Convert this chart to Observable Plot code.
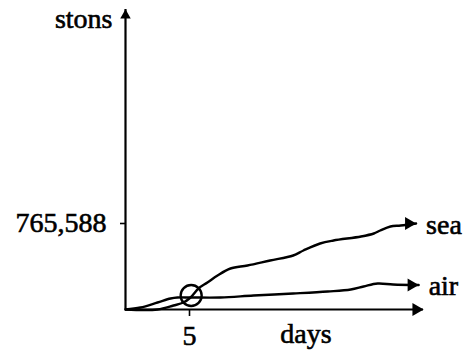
<!DOCTYPE html>
<html>
<head>
<meta charset="utf-8">
<script src="https://cdn.jsdelivr.net/npm/d3@7"></script>
<script src="https://cdn.jsdelivr.net/npm/@observablehq/plot@0.6"></script>
<style>
  html, body { margin: 0; padding: 0; background: #fff; }
  #chart svg text { stroke: #000; stroke-width: 0.6px; paint-order: stroke; }
</style>
</head>
<body>
<div id="chart"></div>
<script>
// Axis extents (data units)
const xDomain = [0, 23.28];
const yDomain = [0, 2640000];

// Tick labels
const xTicks = [5];
const yTicks = [765588];

// Axis titles
const xTitle = "days";
const yTitle = "stons";

// Series
const seriesNames = ["sea", "air"];
const seaDays = [0, 2.5, 3.75, 4.53, 5.08, 5.7, 6.4, 7.19, 8.2, 9.53, 11.3, 13.1, 13.9, 15.2, 16.25, 18.4, 19.4, 19.9, 20.7, 21.5, 22.7];
const seaTons = [0, 0, 35200, 61600, 105600, 184800, 237600, 299200, 360800, 387200, 431200, 475200, 519200, 580800, 607200, 642400, 668800, 695200, 730400, 739200, 756800];
const airDays = [0, 1.17, 2.5, 3.52, 4.06, 5.08, 7.42, 10.0, 13.1, 15.8, 17.6, 18.6, 19.7, 20.9, 22.9];
const airTons = [0, 17600, 61600, 96800, 105600, 105600, 105600, 123200, 140800, 158400, 176000, 202400, 228800, 220000, 215600];

// Highlighted crossing
const markDay = [5.13];
const markTons = [123200];

const sea = seaDays.map((d, i) => ({day: d, tons: seaTons[i], name: seriesNames[0]}));
const air = airDays.map((d, i) => ({day: d, tons: airTons[i], name: seriesNames[1]}));
const ends = [sea[sea.length - 1], air[air.length - 1]];
const circle = markDay.map((d, i) => ({day: d, tons: markTons[i]}));

const font = "'Liberation Serif', 'Times New Roman', serif";

const chart = Plot.plot({
  width: 466,
  height: 352,
  marginLeft: 125,
  marginRight: 43,
  marginTop: 9,
  marginBottom: 43,
  x: {domain: xDomain, axis: null},
  y: {domain: yDomain, axis: null},
  style: {fontFamily: font, fontSize: "28px", color: "black", background: "white", overflow: "visible"},
  marks: [
    // axes lines
    Plot.ruleY([yDomain[0]], {stroke: "black", strokeWidth: 2.2}),
    Plot.ruleX([xDomain[0]], {stroke: "black", strokeWidth: 2.2}),
    // axis arrowheads
    Plot.dot([{day: xDomain[1], tons: yDomain[0]}], {x: "day", y: "tons", symbol: "triangle", r: 4.8, fill: "black", stroke: "none", rotate: 90, dx: -7.3}),
    Plot.dot([{day: xDomain[0], tons: yDomain[1]}], {x: "day", y: "tons", symbol: "triangle", r: 3.9, fill: "black", stroke: "none", dy: 5.9}),
    // ticks
    Plot.axisY(yTicks, {tickFormat: d3.format(","), tickSize: 5, tickPadding: 14, label: null, fontSize: 28, strokeWidth: 1.6, dy: 1}),
    Plot.axisX(xTicks, {tickSize: 7, tickPadding: 9, label: null, fontSize: 28, strokeWidth: 1.6}),
    // axis titles
    Plot.text([yTitle], {x: () => xDomain[0], y: () => yDomain[1], text: d => d, textAnchor: "end", lineAnchor: "bottom", dx: -13, dy: 18, fontSize: 28, fill: "black"}),
    Plot.text([xTitle], {x: () => 14.1, y: () => yDomain[0], text: d => d, textAnchor: "middle", lineAnchor: "bottom", dy: 33, fontSize: 28, fill: "black"}),
    // series
    Plot.line(sea, {x: "day", y: "tons", curve: "catmull-rom", stroke: "black", strokeWidth: 2.4}),
    Plot.line(air, {x: "day", y: "tons", curve: "catmull-rom", stroke: "black", strokeWidth: 2.4}),
    Plot.dot(ends, {x: "day", y: "tons", symbol: "triangle", r: 4.8, fill: "black", stroke: "none", rotate: 90, dx: -7.3}),
    Plot.text(ends, {x: "day", y: "tons", text: "name", textAnchor: "start", lineAnchor: "bottom", dx: 10, dy: 10, fontSize: 28, fill: "black"}),
    // crossing circle
    Plot.dot(circle, {x: "day", y: "tons", r: 10.5, fill: "none", stroke: "black", strokeWidth: 2.4})
  ]
});
document.getElementById("chart").appendChild(chart);
</script>
</body>
</html>
